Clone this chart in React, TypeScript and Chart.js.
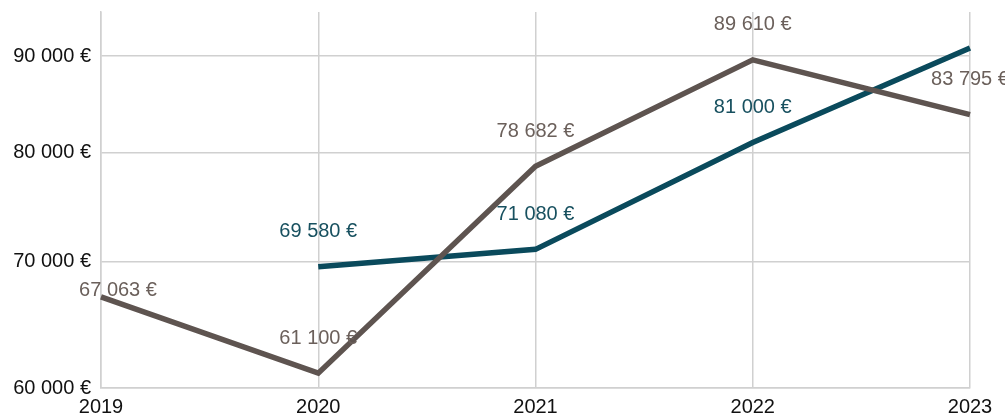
import React, { useEffect, useRef } from "react";
import { Chart, registerables } from "chart.js";

Chart.register(...registerables);

const YEARS = ["2019", "2020", "2021", "2022", "2023"];
const SERIES_A = [67063, 61100, 78682, 89610, 83795];
const SERIES_B = [null, 69580, 71080, 81000, 90900];
const SHOW_LABEL_A = [true, true, true, true, true];
const SHOW_LABEL_B = [false, true, true, true, false];
const Y_TICKS = [60000, 70000, 80000, 90000];
const Y_MIN = 60000;
const Y_MAX = 95000;

const COLOR_A = "#5e5450";
const COLOR_B = "#0a4a5c";
const LABEL_A = "#6b605b";
const LABEL_B = "#17505f";
const FONT = "'Liberation Sans', Arial, sans-serif";

function fmt(v: number): string {
  const s = Math.round(v).toString();
  return s.replace(/\B(?=(\d{3})+(?!\d))/g, " ") + " €";
}

const labelPlugin = {
  id: "valueLabels",
  afterDatasetsDraw(chart: any) {
    const ctx = chart.ctx;
    ctx.save();
    ctx.font = `20px ${FONT}`;
    ctx.textAlign = "center";
    ctx.textBaseline = "middle";
    chart.data.datasets.forEach((ds: any, di: number) => {
      const meta = chart.getDatasetMeta(di);
      const show = di === 0 ? SHOW_LABEL_A : SHOW_LABEL_B;
      ctx.fillStyle = di === 0 ? LABEL_A : LABEL_B;
      meta.data.forEach((pt: any, i: number) => {
        const v = ds.data[i];
        if (v == null || !show[i]) return;
        let dx = 0;
        let dy = -35;
        if (i === 0) {
          dx = 17;
          dy = -6;
        }
        ctx.fillText(fmt(v), pt.x + dx, pt.y + dy);
      });
    });
    ctx.restore();
  },
};

export default function App() {
  const ref = useRef<HTMLCanvasElement | null>(null);
  useEffect(() => {
    if (!ref.current) return;
    const chart = new Chart(ref.current, {
      type: "line",
      data: {
        labels: YEARS,
        datasets: [
          {
            data: SERIES_A,
            borderColor: COLOR_A,
            backgroundColor: COLOR_A,
            borderWidth: 5.5,
            pointRadius: 0,
            tension: 0,
          },
          {
            data: SERIES_B as any,
            borderColor: COLOR_B,
            backgroundColor: COLOR_B,
            borderWidth: 5.5,
            pointRadius: 0,
            tension: 0,
          },
        ],
      },
      options: {
        animation: false,
        responsive: false,
        maintainAspectRatio: false,
        layout: { padding: { top: 0, right: 35, left: 0, bottom: 0 } },
        plugins: {
          legend: { display: false },
          tooltip: { enabled: false },
        },
        scales: {
          x: {
            grid: {
              color: "#d0d0d0",
              lineWidth: 1.5,
              drawTicks: false,
              offset: false,
            },
            border: { color: "#d0d0d0", width: 1.5 },
            ticks: {
              color: "#111",
              font: { family: FONT, size: 20 },
              padding: 7,
              maxRotation: 0,
              autoSkip: false,
            },
            afterFit: (s: any) => {
              s.height = 30;
            },
          },
          y: {
            type: "logarithmic",
            min: Y_MIN,
            max: Y_MAX,
            grid: { color: "#d0d0d0", lineWidth: 1.5, drawTicks: false },
            border: { color: "#d0d0d0", width: 1.5 },
            afterBuildTicks: (s: any) => {
              s.ticks = Y_TICKS.map((v) => ({ value: v }));
            },
            ticks: {
              color: "#111",
              font: { family: FONT, size: 20 },
              padding: 10,
              callback: (v: any) => fmt(Number(v)),
            },
            afterFit: (s: any) => {
              s.width = 101;
              s.paddingTop = 12;
              s.paddingBottom = 0;
            },
          },
        },
      },
      plugins: [labelPlugin],
    });
    return () => chart.destroy();
  }, []);
  return (
    <div style={{ position: "absolute", left: 0, top: 0, width: 1005, height: 418 }}>
      <canvas ref={ref} width={1005} height={418} style={{ width: 1005, height: 418 }} />
    </div>
  );
}
